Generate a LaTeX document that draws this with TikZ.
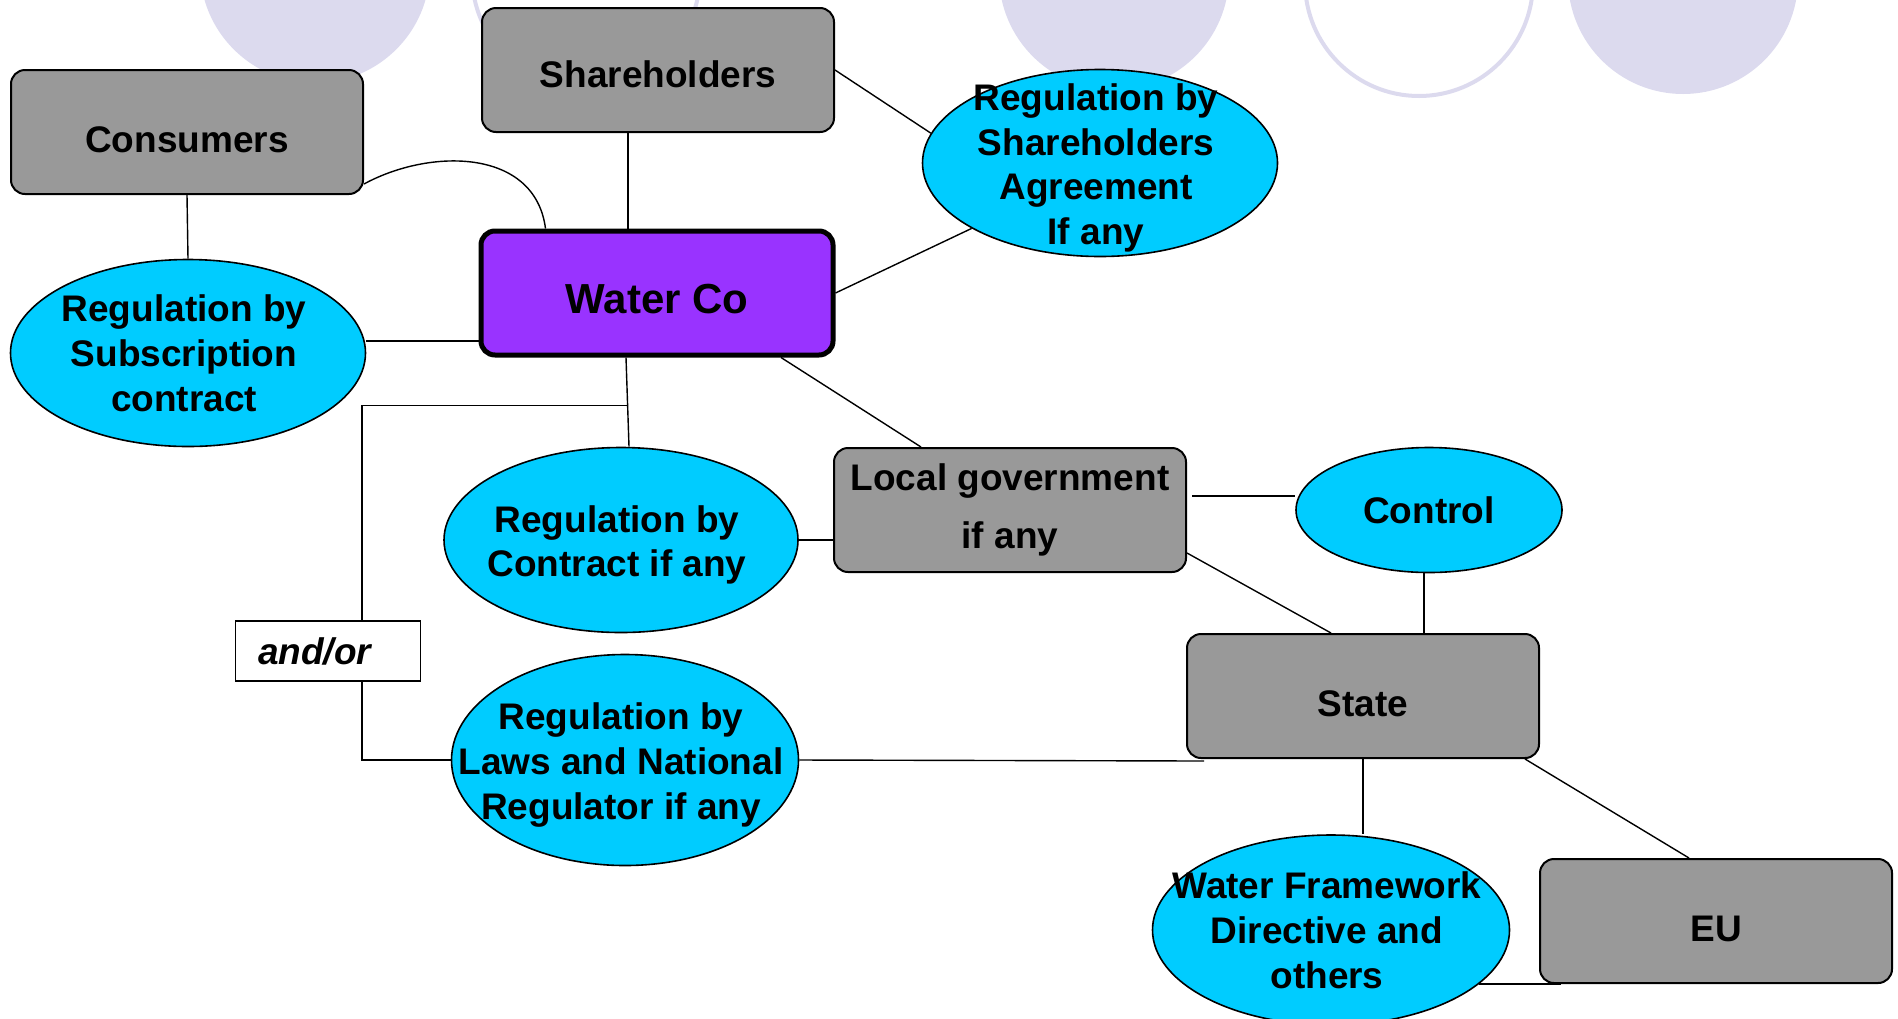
\documentclass[tikz,border=0pt]{standalone}
\usepackage{fontspec}
\setmainfont{Liberation Sans}
\usetikzlibrary{shapes.geometric,calc}

\definecolor{boxgray}{HTML}{999999}
\definecolor{blobcyan}{HTML}{00CCFF}
\definecolor{copurple}{HTML}{9933FF}
\definecolor{ringlav}{HTML}{DCDAEE}

\begin{document}
\begin{tikzpicture}[x=0.5pt,y=-0.5pt,
  every node/.style={font=\fontsize{18.5}{22.4}\selectfont\bfseries, align=center},
  every label/.style={xshift=-2pt},
  box/.style={draw, line width=1pt, fill=boxgray, rounded corners=7pt,
              minimum width=176pt, minimum height=62pt, inner sep=2pt},
  low/.style={text height=20pt, text depth=0pt},
  blob/.style={draw, line width=0.8pt, fill=blobcyan, ellipse,
               minimum width=177.5pt, minimum height=93.5pt, inner sep=0pt},
  link/.style={line width=0.7pt}]
\useasboundingbox (0,0) rectangle (1898,1018);
%
\fill [ringlav] (315,-32) circle [radius=57.5pt];
\draw [ringlav, line width=2pt] (586,-25) circle [radius=57pt];
\fill [ringlav] (1114,-25) circle [radius=57.5pt];
\draw [ringlav, line width=2pt] (1419,-18) circle [radius=57pt];
\fill [ringlav] (1683,-21) circle [radius=57.5pt];
%
\node at (187,132) [box, low] (con) {Consumers};
\node at (658,70) [box, low, text height=17pt] (shr) {Shareholders};
\node at (657,293) [box, low, fill=copurple, line width=2.5pt,
  font=\fontsize{21}{25}\selectfont\bfseries] (wat) {Water Co};
\node at (1100,163) [blob,
  label={[yshift=-2.5pt]center:Regulation by\\Shareholders\\Agreement\\If any}] (rsh) {};
\node at (188,353) [blob,
  label={center:Regulation by\\Subscription\\contract}] (sub) {};
\node at (1010,510) [box] (lgv) {Local government\\[7pt]if any};
\node at (1429,510) [blob, minimum width=133pt, minimum height=62.5pt] (ctl) {Control};
\node at (621,540) [blob, minimum width=177pt, minimum height=92.5pt,
  label={[yshift=-2.5pt]center:Regulation by\\Contract if any}] (ctr) {};
\node at (328,651) [draw, line width=0.8pt, minimum width=92.5pt, minimum height=30pt,
  text width=70pt, inner xsep=11pt, align=left,
  font=\fontsize{18.5}{22.4}\selectfont\bfseries\itshape] (and) {and/or};
\node at (1363,696) [box, low] (sta) {State};
\node at (625,760) [blob, minimum width=173.5pt, minimum height=105.5pt,
  label={[yshift=-2.5pt]center:Regulation by\\Laws and National\\Regulator if any}] (law) {};
\node at (1331,930) [blob, minimum width=178.5pt, minimum height=95pt,
  label={center:Water Framework\\Directive and\\others}] (wfd) {};
\node at (1716,921) [box, low] (eu) {EU};
%
\draw [link] (con.south) -- (sub.north);
\draw [link] ($(con.east)+(0,52)$) .. controls (430,148) and (535,148) .. ($(wat.north west)+(67,0)$);
\draw [link] ($(shr.south)+(-30,0)$) -- ($(wat.north)+(-29,0)$);
\draw [link] (shr.east) -- (rsh.170);
\draw [link] (wat.east) -- (rsh.207);
\draw [link] ($(sub.east)+(0,-12)$) coordinate (s1) -- (s1 -| wat.west);
%
\draw [link] ($(wat.south)+(-31,0)$) -- coordinate[pos=0.54] (j) ($(ctr.north)+(8,0)$);
\draw [link] (j) -| ($(and.north)+(34,0)$);
\draw [link] ($(and.south)+(34,0)$) |- (law.west);
\draw [link] ($(wat.south)+(124,0)$) -- ($(lgv.north west)+(88,0)$);
\draw [link] (ctr.east) -- (ctr.east -| lgv.west);
\draw [link] (law.east) -- ($(sta.south west)+(18,2)$);
%
\draw [link] ($(lgv.east)+(5,-14)$) coordinate (l1) -- (l1 -| ctl.west);
\draw [link] ($(lgv.south east)+(0,-20)$) -- ($(sta.north west)+(145,0)$);
\draw [link] ($(ctl.south)+(-5,0)$) -- ($(sta.north)+(61,0)$);
\draw [link] (sta.south) -- (sta.south |- wfd.north);
\draw [link] ($(sta.south east)+(-15,0)$) -- ($(eu.north west)+(150,0)$);
\draw [link] (wfd.-20) -- ++(82,0);
\end{tikzpicture}
\end{document}
